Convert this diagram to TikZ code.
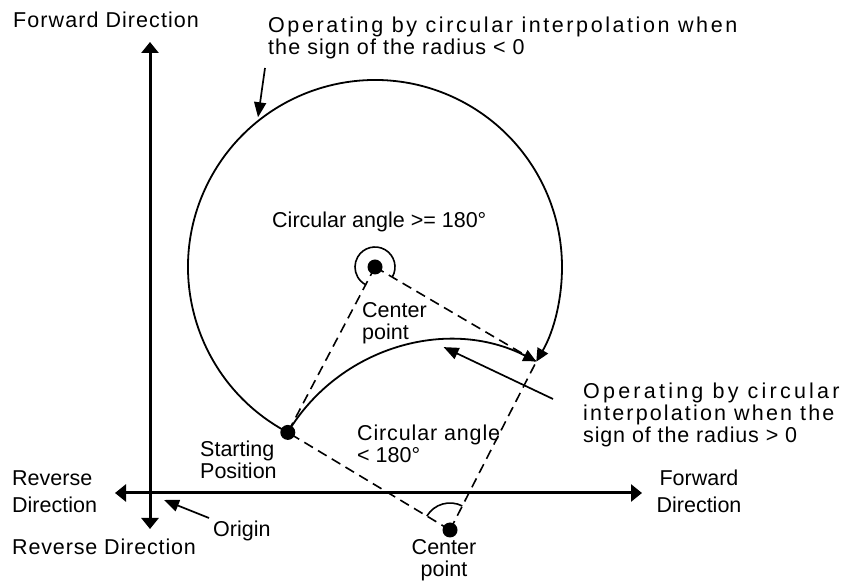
\documentclass[tikz,border=0pt]{standalone}
\usepackage{fontspec}
\setmainfont{Liberation Sans}
\usetikzlibrary{arrows.meta,calc}
\tikzset{
  axisline/.style={line width=3pt,{Triangle[length=11pt,width=17pt]}-{Triangle[length=11pt,width=17pt]}},
  arcline/.style={line width=1.8pt,-{Triangle[length=13pt,width=12pt]}},
  radline/.style={line width=1.6pt,dash pattern=on 10pt off 6pt},
  markline/.style={line width=1.6pt},
  pointer/.style={line width=1.7pt,-{Triangle[length=15pt,width=12pt]}},
  spot/.style={circle,fill=black,inner sep=0pt,minimum size=15pt},
  tag/.style={inner sep=0pt,anchor=base west,align=left,font=\fontsize{21.5}{22}\selectfont},
  axistag/.style={tag,font=\fontsize{21.5}{27}\selectfont}
}
\newcommand{\tracked}[2]{{\addfontfeature{LetterSpace=#1}#2}}

\begin{document}
\begin{tikzpicture}[x=1pt,y=1pt]
  \useasboundingbox (0,0) rectangle (848,583);
  % axes
  \coordinate (ytop) at (150,541);
  \coordinate (ybot) at (150,54);
  \coordinate (xleft) at (115,90);
  \coordinate (xright) at (642,90);
  \draw[axisline] (ybot) -- (ytop);
  \draw[axisline] (xleft) -- (xright);
  % centres, start and end
  \coordinate (C1) at (375,316);
  \coordinate (C2) at (450,53);
  \coordinate (S) at ($(C1)+(242.2:187)$);
  \coordinate (E) at ($(C1)+(-30.4:187)$);
  \draw[radline] (C1) -- (S);
  \draw[radline] (C1) -- (E);
  \draw[radline] (C2) -- (S);
  \draw[radline] (C2) -- (E);
  \draw[arcline] (S) arc[start angle=242.2,end angle=-30.4,radius=187];
  \draw[arcline] (S) arc[start angle=149,end angle=62.9,radius=189.3];
  \draw[markline] ($(C1)+(-30.4:20)$) arc[start angle=-30.4,end angle=242.2,radius=20];
  \draw[markline] ($(C2)+(62.9:27)$) arc[start angle=62.9,end angle=149,radius=27];
  \node[spot] (C1dot) at (C1) {};
  \node[spot] (C2dot) at (C2) {};
  \node[spot] (Sdot) at (S) {};
  % pointers
  \coordinate (negtail) at (265,515);
  \coordinate (neghead) at ($(C1)+(128:190)$);
  \coordinate (postail) at (553,184);
  \coordinate (poshead) at ($(C2)+(92:183)$);
  \coordinate (oritail) at (209,65);
  \coordinate (orihead) at (164,83);
  \draw[pointer] (negtail) -- (neghead);
  \draw[pointer] (postail) -- (poshead);
  \draw[pointer] (oritail) -- (orihead);
  % labels
  \node[tag] (fwdup) at (13,555) {\tracked{5}{Forward Direction}};
  \node[tag] (negnote) at (268,528) {\tracked{12}{Operating by circular interpolation when}\\
    \tracked{5}{the sign of the radius < 0}};
  \node[tag] (bigangle) at (272,355) {Circular angle >= 180°};
  \node[tag] (ctrup) at (362,243) {Center\\point};
  \node[tag] (start) at (200,104) {Starting\\Position};
  \node[tag] (smallangle) at (357,120) {\tracked{4}{Circular angle}\\< 180°};
  \node[tag] (posnote) at (583,140) {\tracked{15}{Operating by circular}\\
    \tracked{10}{interpolation when the}\\\tracked{4}{sign of the radius > 0}};
  \node[axistag,anchor=base,align=center] (fwdright) at (699,70) {Forward\\Direction};
  \node[axistag] (revleft) at (12,70) {Reverse\\Direction};
  \node[tag] (revdown) at (12,28) {\tracked{4}{Reverse Direction}};
  \node[tag] (origin) at (213,46) {Origin};
  \node[tag,anchor=base,align=center] (ctrdown) at (444,6) {Center\\point};
\end{tikzpicture}
\end{document}
